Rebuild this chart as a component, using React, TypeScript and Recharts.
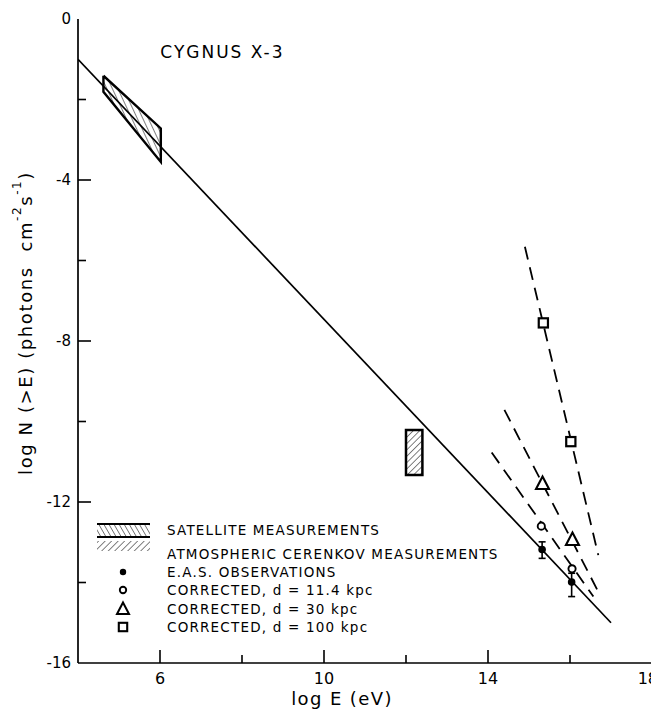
import React from 'react';
import {
  ComposedChart,
  XAxis,
  YAxis,
  Line,
  Area,
  Scatter,
  ErrorBar,
  ReferenceArea,
  ReferenceDot,
  Legend,
  Label,
} from 'recharts';

// ---------- data ----------
const xTicks = [4, 6, 8, 10, 12, 14, 16, 18];
const xMajorTicks = [6, 10, 14];
const xTickLabels: Record<string, string> = { '6': '6', '10': '10', '14': '14', '18': '18' };

const yTicks = [-16, -14, -12, -10, -8, -6, -4, -2, 0];
const yMajorTicks = [-4, -8, -12];
const yTickLabels: Record<string, string> = { '0': '0', '-4': '-4', '-8': '-8', '-12': '-12', '-16': '-16' };

const powerLaw = [
  { x: 4, y: -1.0 },
  { x: 17, y: -15.0 },
];

const satelliteOutline = [
  { x: 4.62, y: -1.41 },
  { x: 6.02, y: -2.72 },
  { x: 6.02, y: -3.55 },
  { x: 4.62, y: -1.81 },
  { x: 4.62, y: -1.41 },
];

const satelliteBand = [
  { x: 4.62, band: [-1.81, -1.41] },
  { x: 6.02, band: [-3.55, -2.72] },
];

const cerenkovX = [12.0, 12.4];
const cerenkovY = [-11.33, -10.21];

const easObservations = [
  { x: 15.32, y: -13.18, err: [0.22, 0.19] },
  { x: 16.04, y: -13.99, err: [0.36, 0.22] },
];
const corrected11 = [
  { x: 15.3, y: -12.6 },
  { x: 16.05, y: -13.66 },
];
const corrected30 = [
  { x: 15.33, y: -11.54 },
  { x: 16.06, y: -12.93 },
];
const corrected100 = [
  { x: 15.35, y: -7.55 },
  { x: 16.02, y: -10.5 },
];

const fit11 = [
  { x: 14.09, y: -10.77 },
  { x: 16.57, y: -14.35 },
];
const fit30 = [
  { x: 14.4, y: -9.71 },
  { x: 16.69, y: -14.23 },
];
const fit100 = [
  { x: 14.9, y: -5.66 },
  { x: 16.69, y: -13.32 },
];

const titleText = 'CYGNUS X-3';
const titlePos = { x: 6.02, y: -0.82 };

const legendLabels = [
  'SATELLITE MEASUREMENTS',
  'ATMOSPHERIC CERENKOV MEASUREMENTS',
  'E.A.S. OBSERVATIONS',
  'CORRECTED, d = 11.4 kpc',
  'CORRECTED, d = 30 kpc',
  'CORRECTED, d = 100 kpc',
];

// ---------- styling ----------
const FONT = '"DejaVu Sans", sans-serif';
const INK = '#000';

// ---------- ticks ----------
const BottomTick = (props: any) => {
  const { x, y, payload } = props;
  const v = payload.value;
  const len = xMajorTicks.includes(v) ? 13 : v === 4 || v === 18 ? 0 : 8;
  const lab = xTickLabels[String(v)];
  const isLast = v === 18;
  return (
    <g>
      {len > 0 && <line x1={x} y1={y} x2={x} y2={y - len} stroke={INK} strokeWidth={1.6} />}
      {lab && (
        <text
          x={isLast ? x + 6 : x}
          y={y + 21}
          textAnchor={isLast ? 'end' : 'middle'}
          fontSize={16}
          fontFamily={FONT}
          fill={INK}
        >
          {lab}
        </text>
      )}
    </g>
  );
};

const TopTick = (props: any) => {
  const { x, y, payload } = props;
  const v = payload.value;
  if (v === 4 || v === 18) return <g />;
  return <line x1={x} y1={y} x2={x} y2={y + 10} stroke={INK} strokeWidth={1.5} />;
};

const LeftTick = (props: any) => {
  const { x, y, payload } = props;
  const v = payload.value;
  const len = yMajorTicks.includes(v) ? 13 : v === 0 || v === -16 ? 0 : 8;
  const lab = yTickLabels[String(v)];
  return (
    <g>
      {len > 0 && <line x1={x} y1={y} x2={x + len} y2={y} stroke={INK} strokeWidth={1.6} />}
      {lab && (
        <text x={x - 7} y={y + 5} textAnchor="end" fontSize={15} fontFamily={FONT} fill={INK}>
          {lab}
        </text>
      )}
    </g>
  );
};

const RightTick = (props: any) => {
  const { x, y, payload } = props;
  const v = payload.value;
  if (v === 0 || v === -16) return <g />;
  return <line x1={x} y1={y} x2={x - 10} y2={y} stroke={INK} strokeWidth={1.5} />;
};

// ---------- titles ----------
const YTitle = (props: any) => {
  const vb = props.viewBox || { x: 0, y: 11, width: 70, height: 644 };
  const cx = vb.x + 17;
  const cy = vb.y + vb.height / 2 - 18;
  return (
    <text
      transform={`rotate(-90, ${cx}, ${cy})`}
      x={cx}
      y={cy}
      textAnchor="middle"
      dominantBaseline="central"
      fontSize={18}
      fontFamily={FONT}
      fill={INK}
      letterSpacing={1.6}
      style={{ whiteSpace: 'pre' }}
    >
      {'log N (>E) (photons  cm'}
      <tspan dy={-8} fontSize={12}>-2</tspan>
      <tspan dy={8}>s</tspan>
      <tspan dy={-8} fontSize={12}>-1</tspan>
      <tspan dy={8}>)</tspan>
    </text>
  );
};

const XTitle = (props: any) => {
  const vb = props.viewBox || { x: 70, y: 655, width: 574, height: 47 };
  const cx = vb.x + vb.width / 2 - 23;
  const cy = vb.y + 42;
  return (
    <text x={cx} y={cy} textAnchor="middle" fontSize={18} fontFamily={FONT} fill={INK} letterSpacing={1.4}>
      log E (eV)
    </text>
  );
};

const TitleLabel = (props: any) => {
  const vb = props.viewBox || { x: 0, y: 0, width: 0, height: 0 };
  return (
    <text
      x={vb.x}
      y={vb.y + vb.height / 2}
      dominantBaseline="central"
      fontSize={17}
      fontFamily={FONT}
      fill={INK}
      letterSpacing={2}
    >
      {titleText}
    </text>
  );
};

// ---------- symbols ----------
const FilledCircle = (p: any) => <circle cx={p.cx} cy={p.cy} r={3.8} fill={INK} />;
const OpenCircle = (p: any) => (
  <circle cx={p.cx} cy={p.cy} r={3.6} fill="#fff" stroke={INK} strokeWidth={1.9} />
);
const Triangle = (p: any) => (
  <path
    d={`M${p.cx},${p.cy - 7} L${p.cx + 6.5},${p.cy + 5.5} L${p.cx - 6.5},${p.cy + 5.5} Z`}
    fill="#fff"
    stroke={INK}
    strokeWidth={2.1}
    strokeLinejoin="miter"
  />
);
const Square = (p: any) => (
  <rect x={p.cx - 4.6} y={p.cy - 4.6} width={9.2} height={9.2} fill="#fff" stroke={INK} strokeWidth={2.2} />
);

// ---------- legend ----------
const LegendContent = () => {
  const textX = 77;
  const symX = 33;
  const rowY = [20, 44, 62, 80, 99, 117];
  return (
    <svg width={460} height={130} style={{ display: 'block', overflow: 'visible' }}>
      <defs>
        <pattern id="lgSat" width="4.4" height="4.4" patternUnits="userSpaceOnUse" patternTransform="rotate(-30)">
          <line x1="0" y1="0" x2="0" y2="4.4" stroke={INK} strokeWidth="1" />
        </pattern>
        <pattern id="lgCer" width="4.6" height="4.6" patternUnits="userSpaceOnUse" patternTransform="rotate(45)">
          <line x1="0" y1="0" x2="0" y2="4.6" stroke={INK} strokeWidth="1" />
        </pattern>
      </defs>
      <rect x={7} y={14} width={53} height={13} fill="url(#lgSat)" />
      <line x1={7} y1={14} x2={60} y2={14} stroke={INK} strokeWidth={2} />
      <line x1={7} y1={27} x2={60} y2={27} stroke={INK} strokeWidth={2} />
      <rect x={7} y={31} width={53} height={10} fill="url(#lgCer)" />
      <circle cx={symX} cy={rowY[2]} r={3.2} fill={INK} />
      <circle cx={symX} cy={rowY[3]} r={3.2} fill="#fff" stroke={INK} strokeWidth={1.9} />
      <path
        d={`M${symX},${rowY[4] - 6.5} L${symX + 6},${rowY[4] + 5} L${symX - 6},${rowY[4] + 5} Z`}
        fill="#fff"
        stroke={INK}
        strokeWidth={2}
      />
      <rect x={symX - 4.2} y={rowY[5] - 4.2} width={8.4} height={8.4} fill="#fff" stroke={INK} strokeWidth={2.1} />
      {legendLabels.map((t, i) => (
        <text
          key={t}
          x={textX}
          y={rowY[i]}
          dominantBaseline="central"
          fontSize={13.5}
          fontFamily={FONT}
          fill={INK}
          letterSpacing={1.2}
        >
          {t}
        </text>
      ))}
    </svg>
  );
};

export default function App() {
  return (
    <div style={{ width: 651, height: 702, background: '#fff' }}>
      <ComposedChart width={651} height={702} margin={{ top: 11, right: 7, left: 0, bottom: 0 }}>
        <defs>
          <pattern id="hatchSat" width="5" height="5" patternUnits="userSpaceOnUse" patternTransform="rotate(-25)">
            <line x1="0" y1="0" x2="0" y2="5" stroke={INK} strokeWidth="1" />
          </pattern>
          <pattern id="hatchCer" width="4.5" height="4.5" patternUnits="userSpaceOnUse" patternTransform="rotate(45)">
            <line x1="0" y1="0" x2="0" y2="4.5" stroke={INK} strokeWidth="1" />
          </pattern>
        </defs>

        <XAxis
          xAxisId={0}
          dataKey="x"
          type="number"
          domain={[4, 18]}
          ticks={xTicks}
          interval={0}
          height={47}
          tickSize={0}
          tickMargin={0}
          tickLine={false}
          axisLine={{ stroke: INK, strokeWidth: 1.7 }}
          tick={<BottomTick />}
          allowDataOverflow
        >
          <Label content={<XTitle />} />
        </XAxis>
        <XAxis
          xAxisId="top"
          orientation="top"
          dataKey="x"
          type="number"
          domain={[4, 18]}
          ticks={xTicks}
          interval={0}
          height={0}
          tickSize={0}
          tickMargin={0}
          tickLine={false}
          axisLine={{ stroke: INK, strokeWidth: 1.6 }}
          tick={<TopTick />}
          allowDataOverflow
        />
        <YAxis
          yAxisId={0}
          type="number"
          domain={[-16, 0]}
          ticks={yTicks}
          interval={0}
          width={70}
          tickSize={0}
          tickMargin={0}
          tickLine={false}
          axisLine={{ stroke: INK, strokeWidth: 1.7 }}
          tick={<LeftTick />}
          allowDataOverflow
        >
          <Label content={<YTitle />} />
        </YAxis>
        <YAxis
          yAxisId="right"
          orientation="right"
          type="number"
          domain={[-16, 0]}
          ticks={yTicks}
          interval={0}
          width={0}
          tickSize={0}
          tickMargin={0}
          tickLine={false}
          axisLine={{ stroke: INK, strokeWidth: 1.6 }}
          tick={<RightTick />}
          allowDataOverflow
        />

        <Area
          data={satelliteBand}
          dataKey="band"
          type="linear"
          fill="url(#hatchSat)"
          fillOpacity={1}
          stroke="none"
          isAnimationActive={false}
          dot={false}
          activeDot={false}
        />
        <ReferenceArea
          x1={cerenkovX[0]}
          x2={cerenkovX[1]}
          y1={cerenkovY[0]}
          y2={cerenkovY[1]}
          fill="url(#hatchCer)"
          fillOpacity={1}
          stroke={INK}
          strokeWidth={2.5}
          ifOverflow="visible"
        />
        <Line
          data={powerLaw}
          dataKey="y"
          type="linear"
          stroke={INK}
          strokeWidth={1.7}
          dot={false}
          activeDot={false}
          isAnimationActive={false}
        />
        <Line
          data={satelliteOutline}
          dataKey="y"
          type="linear"
          stroke={INK}
          strokeWidth={2.4}
          strokeLinejoin="miter"
          dot={false}
          activeDot={false}
          isAnimationActive={false}
        />
        <Line data={fit11} dataKey="y" type="linear" stroke={INK} strokeWidth={1.8} strokeDasharray="13 8" dot={false} activeDot={false} isAnimationActive={false} />
        <Line data={fit30} dataKey="y" type="linear" stroke={INK} strokeWidth={1.8} strokeDasharray="13 8" dot={false} activeDot={false} isAnimationActive={false} />
        <Line data={fit100} dataKey="y" type="linear" stroke={INK} strokeWidth={1.8} strokeDasharray="13 8" dot={false} activeDot={false} isAnimationActive={false} />

        <Scatter data={corrected11} dataKey="y" shape={<OpenCircle />} isAnimationActive={false} />
        <Scatter data={corrected30} dataKey="y" shape={<Triangle />} isAnimationActive={false} />
        <Scatter data={corrected100} dataKey="y" shape={<Square />} isAnimationActive={false} />
        <Scatter data={easObservations} dataKey="y" shape={<FilledCircle />} isAnimationActive={false}>
          <ErrorBar dataKey="err" direction="y" width={3.5} stroke={INK} strokeWidth={1.6} />
        </Scatter>

        <ReferenceDot
          x={titlePos.x}
          y={titlePos.y}
          r={0.5}
          fill="none"
          stroke="none"
          ifOverflow="visible"
          label={<TitleLabel />}
        />

        <Legend
          layout="vertical"
          align="center"
          verticalAlign="middle"
          content={<LegendContent />}
          wrapperStyle={{ left: 82, top: 502, width: 460, height: 130 }}
        />
      </ComposedChart>
    </div>
  );
}
